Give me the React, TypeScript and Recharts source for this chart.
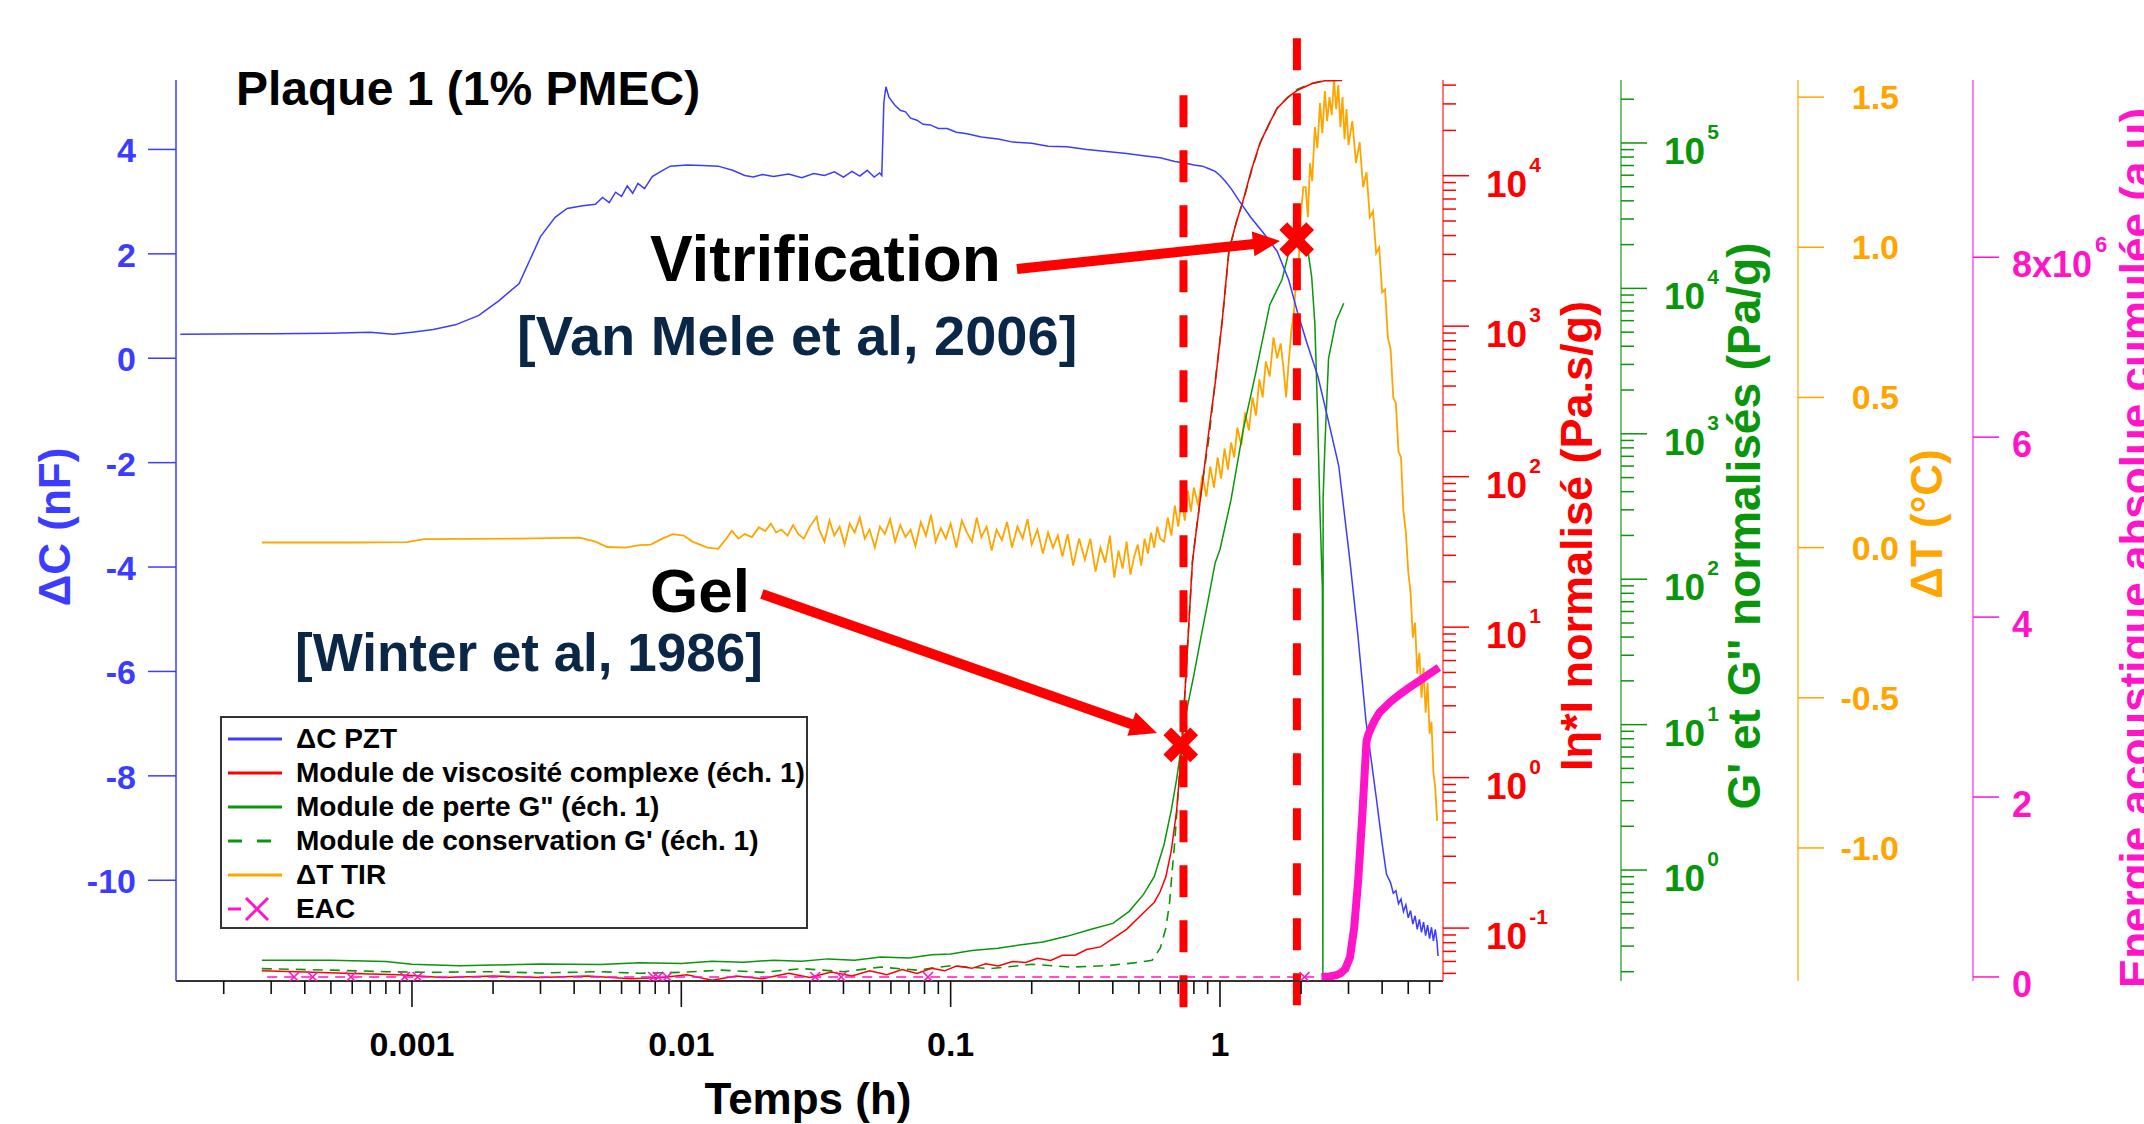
import React from "react";
import {
  ComposedChart,
  Line,
  XAxis,
  YAxis,
  ReferenceLine,
  ReferenceDot,
} from "recharts";

const W = 2144;
const H = 1124;
const FONT = "'Liberation Sans', Arial, Helvetica, sans-serif";

const BLUE = "#3c3cff";
const RED = "#ff0000";
const GREEN = "#0a960a";
const ORANGE = "#ffa500";
const MAGENTA = "#ff14c8";
const NAVY = "#0b2748";

/* ---------- axis domains / ticks ---------- */
const timeDomain = [1.33e-4, 6.73];
const dcDomain = [-11.93, 5.33];
const etaDomain = [0.0445, 43250];
const gDomain = [0.1726, 271000];
const dtDomain = [-1.443, 1.557];
const eacDomain = [-0.045, 9.97];

const timeMajor = [0.001, 0.01, 0.1, 1];
const etaMajor = [0.1, 1, 10, 100, 1000, 10000];
const gMajor = [1, 10, 100, 1000, 10000, 100000];
const dcTicks = [-10, -8, -6, -4, -2, 0, 2, 4];
const dtTicks = [-1.0, -0.5, 0, 0.5, 1.0, 1.5];
const dtLabels = ["-1.0", "-0.5", "0.0", "0.5", "1.0", "1.5"];
const eacTicks = [0, 2, 4, 6, 8];
const eacLabels = ["0", "2", "4", "6", "8x10"];

/** log ticks: every integer multiple of each decade inside [lo, hi] */
function logTicks(lo: number, hi: number) {
  const out: number[] = [];
  for (let e = Math.floor(Math.log10(lo)); e <= Math.ceil(Math.log10(hi)); e++) {
    for (let m = 1; m < 10; m++) {
      const v = Number((m * Math.pow(10, e)).toPrecision(6));
      if (v >= lo && v <= hi) out.push(v);
    }
  }
  return out;
}
const timeTicks = logTicks(timeDomain[0], timeDomain[1]);
const etaTicks = logTicks(etaDomain[0], etaDomain[1]);
const gTicks = logTicks(gDomain[0], gDomain[1]);

/* ---------- ΔC PZT (nF) ---------- */
const dcTime = [
  1.38e-4, 3e-4, 5e-4, 7e-4, 8.5e-4, 1.0e-3, 1.2e-3, 1.45e-3, 1.77e-3, 2.1e-3,
  2.5e-3, 2.75e-3, 3.0e-3, 3.4e-3, 3.77e-3, 4.3e-3, 4.8e-3, 5.1e-3, 5.4e-3, 5.7e-3,
  6.0e-3, 6.3e-3, 6.6e-3, 6.9e-3, 7.3e-3, 7.8e-3, 8.4e-3, 9.1e-3, 0.0105, 0.012,
  0.0137, 0.0155, 0.0172, 0.0185, 0.02, 0.022, 0.025, 0.028, 0.031, 0.034,
  0.037, 0.04, 0.043, 0.046, 0.049, 0.052, 0.0545, 0.0555, 0.0565, 0.0575,
  0.059, 0.062, 0.065, 0.068, 0.071, 0.075, 0.079, 0.084, 0.09, 0.097,
  0.105, 0.115, 0.13, 0.15, 0.17, 0.2, 0.23, 0.27, 0.32, 0.38,
  0.45, 0.52, 0.6, 0.68, 0.74, 0.8, 0.86, 0.91, 0.96, 1.0,
  1.05, 1.1, 1.18, 1.3, 1.45, 1.63, 1.8, 1.94, 2.1, 2.31,
  2.5, 2.76, 3.04, 3.25, 3.48, 3.8, 4.0, 4.15,
  4.3, 4.4, 4.5, 4.6, 4.7, 4.8, 4.9, 5.0, 5.1, 5.2, 5.3, 5.4,
  5.5, 5.6, 5.7, 5.8, 5.9, 6.0, 6.1, 6.2, 6.3, 6.4, 6.45,
];
const dcValue = [
  0.46, 0.47, 0.48, 0.5, 0.46, 0.5, 0.55, 0.64, 0.82, 1.1,
  1.43, 1.9, 2.33, 2.7, 2.87, 2.92, 2.95, 3.08, 2.98, 3.18,
  3.1, 3.3, 3.16, 3.35, 3.25, 3.48, 3.58, 3.68, 3.7, 3.69,
  3.68, 3.6, 3.5, 3.47, 3.52, 3.48, 3.53, 3.46, 3.54, 3.5,
  3.57, 3.47, 3.58, 3.49, 3.6, 3.47, 3.55, 3.5, 4.9, 5.2,
  5.0, 4.85, 4.75, 4.72, 4.6, 4.56, 4.48, 4.47, 4.4, 4.4,
  4.33, 4.3, 4.24, 4.2, 4.14, 4.12, 4.06, 4.05, 4.0, 3.96,
  3.92, 3.88, 3.84, 3.77, 3.74, 3.7, 3.68, 3.63, 3.58, 3.5,
  3.38, 3.25, 3.01, 2.7, 2.4, 2.05, 1.5, 0.88, 0.3, -0.35,
  -1.1, -2.06, -3.9, -5.3, -6.93, -8.4, -9.3, -9.88,
  -10.05, -10.25, -10.2, -10.45, -10.36, -10.6, -10.47, -10.72, -10.58, -10.84, -10.68, -10.94,
  -10.75, -11.0, -10.8, -11.06, -10.86, -11.12, -10.9, -11.16, -10.94, -11.2, -11.45,
];

/* ---------- |η*| normalised (Pa.s/g) ---------- */
const etaTime = [
  2.77e-4, 4e-4, 6e-4, 9e-4, 1.3e-3, 2e-3, 3e-3, 4.5e-3, 6.5e-3, 8.5e-3,
  0.0105, 0.013, 0.016, 0.02, 0.025, 0.03, 0.036, 0.043, 0.05, 0.058,
  0.066, 0.075, 0.085, 0.095, 0.105, 0.12, 0.135, 0.15, 0.17, 0.19,
  0.21, 0.235, 0.26, 0.29, 0.32, 0.36, 0.4, 0.45, 0.5, 0.54,
  0.57, 0.6, 0.63, 0.66, 0.69, 0.715, 0.74, 0.765, 0.79, 0.81,
  0.86, 0.91, 0.96, 1.02, 1.08, 1.15, 1.22, 1.31, 1.41, 1.52,
  1.63, 1.78, 1.94, 2.2, 2.45, 2.84,
];
const etaValue = [
  0.052, 0.051, 0.05, 0.049, 0.047, 0.048, 0.047, 0.048, 0.046, 0.047,
  0.049, 0.045, 0.048, 0.046, 0.05, 0.047, 0.051, 0.048, 0.052, 0.049,
  0.053, 0.05, 0.054, 0.052, 0.056, 0.054, 0.058, 0.056, 0.06, 0.059,
  0.063, 0.061, 0.066, 0.066, 0.072, 0.075, 0.085, 0.098, 0.118, 0.135,
  0.148, 0.175, 0.22, 0.33, 0.6, 1.3, 3.5, 10, 27, 39,
  90, 203, 420, 1100, 3200, 4900, 6900, 11000, 16600, 22000,
  28000, 33000, 37000, 41000, 42700, 43000,
];

/* ---------- G'' loss modulus (Pa/g) ---------- */
const g2Time = [
  2.77e-4, 5e-4, 8e-4, 1e-3, 1.5e-3, 2e-3, 3e-3, 5e-3, 7e-3, 0.01,
  0.013, 0.017, 0.022, 0.028, 0.035, 0.044, 0.055, 0.07, 0.085, 0.1,
  0.12, 0.15, 0.18, 0.22, 0.27, 0.33, 0.4, 0.46, 0.52, 0.57,
  0.62, 0.66, 0.69, 0.72, 0.74, 0.8, 0.85, 0.9, 0.96, 1.0,
  1.1, 1.22, 1.35, 1.53, 1.7, 1.83, 1.94, 2.04, 2.12, 2.19,
  2.25, 2.3, 2.35, 2.4, 2.41, 2.415, 2.45, 2.53, 2.7, 2.88,
];
const g2Value = [
  0.24, 0.24, 0.235, 0.225, 0.22, 0.222, 0.226, 0.224, 0.23, 0.228,
  0.236, 0.232, 0.24, 0.236, 0.245, 0.24, 0.252, 0.248, 0.262, 0.265,
  0.28, 0.29, 0.305, 0.32, 0.35, 0.39, 0.43, 0.52, 0.68, 0.9,
  1.5, 2.6, 4.2, 7.2, 10.8, 22, 40, 69, 130, 160,
  355, 1070, 2500, 7700, 11500, 20000, 24000, 22000, 18200, 12000,
  5750, 1500, 300, 87, 0.19, 360, 800, 3300, 6000, 7900,
];

/* ---------- G' storage modulus (Pa/g) ---------- */
const g1Time = [
  2.77e-4, 5e-4, 8e-4, 1.2e-3, 2e-3, 3e-3, 5e-3, 7e-3, 0.01, 0.014,
  0.02, 0.028, 0.04, 0.055, 0.075, 0.1, 0.14, 0.2, 0.28, 0.38,
  0.48, 0.56, 0.6, 0.63, 0.65, 0.665, 0.68, 0.7, 0.72, 0.74,
  0.765, 0.79, 0.81, 0.86, 0.91, 0.96, 1.02, 1.08, 1.15, 1.22,
  1.31, 1.41, 1.52, 1.63, 1.78, 1.94, 2.2, 2.45, 2.84,
];
const g1Value = [
  0.21, 0.205, 0.2, 0.198, 0.2, 0.196, 0.2, 0.195, 0.198, 0.205,
  0.198, 0.21, 0.2, 0.215, 0.205, 0.22, 0.21, 0.225, 0.215, 0.22,
  0.23, 0.24, 0.29, 0.4, 0.6, 1.0, 1.6, 3.5, 7.2, 16,
  47, 132, 195, 457, 933, 2290, 6030, 18200, 28500, 39800,
  64600, 100000, 134000, 174000, 204000, 234000, 257000, 269000, 270000,
];

/* ---------- ΔT TIR (°C) ---------- */
const dtTime = [
  2.77e-4, 6e-4, 9.6e-4, 1.11e-3, 2.5e-3, 4.2e-3, 4.8e-3, 5.3e-3, 6.2e-3, 7.0e-3,
  7.7e-3, 8.5e-3, 9.3e-3, 0.0102, 0.011, 0.0125, 0.0137, 0.0147, 0.0154, 0.0163,
  0.0172, 0.0183, 0.0194, 0.0205, 0.0215, 0.0225, 0.0235, 0.0248, 0.026, 0.0272,
  0.0285, 0.03, 0.0318, 0.0325,
  0.034, 0.0355, 0.037, 0.0387, 0.0404, 0.0422, 0.044, 0.046, 0.048, 0.05,
  0.0523, 0.0546, 0.057, 0.0596, 0.0622, 0.065, 0.068, 0.071, 0.074, 0.0775,
  0.081, 0.0845, 0.088, 0.092, 0.096, 0.1, 0.105, 0.11, 0.115, 0.12,
  0.125, 0.13, 0.136, 0.142, 0.148, 0.155, 0.162, 0.169, 0.177, 0.185,
  0.193, 0.2, 0.21, 0.22, 0.23, 0.24, 0.25, 0.26, 0.272, 0.285, 0.3,
  0.315, 0.33, 0.345, 0.36, 0.375, 0.39, 0.405, 0.42, 0.435, 0.45,
  0.465, 0.48, 0.495, 0.51, 0.525, 0.54, 0.555, 0.57, 0.585, 0.6,
  0.62, 0.64, 0.66, 0.68, 0.7, 0.72, 0.74, 0.76, 0.78, 0.8,
  0.83, 0.86, 0.89, 0.92, 0.95, 0.98, 1.01, 1.04, 1.07, 1.1,
  1.13, 1.16, 1.2, 1.24, 1.28, 1.32, 1.36, 1.4, 1.44, 1.48,
  1.53, 1.58, 1.63, 1.68, 1.72, 1.76, 1.8, 1.84, 1.88, 1.92,
  1.96, 2.0, 2.04,
  2.08, 2.12, 2.16, 2.2, 2.25, 2.3, 2.35, 2.4, 2.45, 2.5,
  2.55, 2.6, 2.65, 2.7, 2.75, 2.8, 2.85, 2.9, 2.95, 3.0,
  3.1, 3.2, 3.3, 3.4, 3.5, 3.6, 3.7, 3.8, 3.9, 4.0,
  4.1, 4.2, 4.3, 4.4, 4.5, 4.6, 4.7, 4.8, 4.9, 5.0,
  5.1, 5.2, 5.3, 5.4, 5.5, 5.6, 5.7, 5.8, 5.9, 6.0,
  6.1, 6.2, 6.3, 6.4,
];
const dtValue = [
  0.017, 0.017, 0.018, 0.028, 0.03, 0.033, 0.02, 0.002, 0.0, 0.008,
  0.01, 0.03, 0.045, 0.04, 0.02, 0.0, -0.004, 0.03, 0.056, 0.03,
  0.045, 0.035, 0.068, 0.055, 0.08, 0.05, 0.06, 0.04, 0.075, 0.045,
  0.03, 0.07, 0.103, 0.06,
  0.02, 0.09, 0.04, 0.07, 0.01, 0.08, 0.05, 0.1, 0.03, 0.06,
  0.0, 0.07, 0.045, 0.095, 0.02, 0.075, 0.035, 0.06, 0.005, 0.085,
  0.04, 0.11, 0.02, 0.065, 0.03, 0.08, 0.0, 0.09, 0.05, 0.02,
  0.1, 0.035, 0.07, -0.01, 0.06, 0.025, 0.085, 0.0, 0.07, 0.03,
  0.095, 0.01, 0.06, -0.02, 0.05, 0.0, 0.04, -0.03, 0.045, -0.06, 0.03,
  -0.04, 0.03, -0.08, 0.0, -0.05, 0.04, -0.1, -0.01, -0.07, 0.02,
  -0.09, -0.03, 0.01, -0.06, 0.03, -0.02, 0.05, 0.0, 0.07, 0.03,
  0.02, 0.1, 0.04, 0.14, 0.07, 0.16, 0.09, 0.19, 0.12, 0.2,
  0.14, 0.24, 0.17, 0.27, 0.2, 0.3, 0.23, 0.33, 0.26, 0.35,
  0.3, 0.4, 0.34, 0.45, 0.39, 0.5, 0.44, 0.56, 0.5, 0.62,
  0.57, 0.7, 0.63, 0.68, 0.6, 0.5, 0.62, 0.72, 0.78, 0.9,
  0.95, 1.12, 1.2,
  1.2, 1.1, 1.28, 1.22, 1.4, 1.33, 1.48, 1.38, 1.52, 1.42,
  1.5, 1.44, 1.56, 1.46, 1.54, 1.4, 1.5, 1.36, 1.46, 1.34,
  1.42, 1.28, 1.35, 1.2, 1.25, 1.1, 1.12, 0.98, 1.0, 0.85,
  0.86, 0.7, 0.66, 0.5, 0.48, 0.32, 0.3, 0.12, 0.05, -0.08,
  -0.15, -0.3, -0.25, -0.42, -0.35, -0.5, -0.4, -0.55, -0.45, -0.62,
  -0.58, -0.75, -0.8, -0.91,
];

/* ---------- EAC (x10^6 a.u) ---------- */
const eacLowTime = [
  2.9e-4, 3.65e-4, 4.28e-4, 5.93e-4, 9.4e-4, 1.05e-3, 7.86e-3, 8.2e-3, 8.85e-3,
  0.0314, 0.0392, 0.0824, 2.06, 2.3,
];
const eacLowValue = [0, 0, 0, 0, 0, 0, 0, 0, 0, 0, 0, 0, 0, 0];
const eacLowMarked = [false, true, true, true, true, true, true, true, true, true, true, true, true, false];
const eacHighTime = [
  2.38, 2.55, 2.7, 2.8, 2.92, 3.04, 3.15, 3.26, 3.38, 3.45, 3.5, 3.56, 3.63,
  3.75, 3.91, 4.1, 4.3, 4.65, 5.0, 5.55, 6.0, 6.5,
];
const eacHighValue = [
  0, 0.005, 0.02, 0.04, 0.09, 0.22, 0.55, 1.08, 1.82, 2.3, 2.62, 2.7, 2.76,
  2.85, 2.94, 3.0, 3.06, 3.14, 3.21, 3.3, 3.37, 3.44,
];

/* ---------- annotations (data coords: time h, ΔC nF or |η*|) ---------- */
const gelLineTime = 0.732;
const vitLineTime = 1.93;
const gelLineTop = 5.04;
const vitLineTop = 6.13;
const lineBottom = -12.52;
const gelMark = { t: 0.715, eta: 1.65 };
const vitMark = { t: 1.927, eta: 3760 };
const vitArrow = { from: [0.1763, 1.71], to: [1.337, 2.19], tip: [1.67, 2.246], angle: -6.1 };
const gelArrow = { from: [0.01992, -4.517], to: [0.4732, -7.015], tip: [0.5835, -7.18], angle: 19.4 };

// recharts stacks same-side axes in id order, so ids are prefixed to keep
// red, green, orange, magenta from the plot outward
const ID_ETA = "r1_eta";
const ID_G = "r2_g";
const ID_DT = "r3_dt";
const ID_EAC = "r4_eac";

type Pt = { t: number; v: number; m?: boolean };
const zip = (ts: number[], vs: number[]): Pt[] => ts.map((t, i) => ({ t, v: vs[i] }));

const dcData = zip(dcTime, dcValue);
const etaData = zip(etaTime, etaValue);
const g2Data = zip(g2Time, g2Value);
const g1Data = zip(g1Time, g1Value);
const dtData = zip(dtTime, dtValue);
const eacLowData = eacLowTime.map((t, i) => ({ t, v: eacLowValue[i], m: eacLowMarked[i] }));
const eacHighData = zip(eacHighTime, eacHighValue);

const near = (a: number, list: number[]) => list.some((b) => Math.abs(a - b) / b < 1e-6);

/* ---------- tick renderers ---------- */
function TimeTick(p: any) {
  const v = p.payload.value;
  const major = near(v, timeMajor);
  return (
    <g>
      <line x1={p.x} x2={p.x} y1={p.y} y2={p.y + (major ? 26 : 13)} stroke="#111" strokeWidth={1.6} />
      {major && (
        <text x={p.x} y={p.y + 75} textAnchor="middle" fill="#000" fontSize={34} fontWeight="bold" fontFamily={FONT}>
          {String(v)}
        </text>
      )}
    </g>
  );
}

function DcTick(p: any) {
  return (
    <g>
      <line x1={p.x - 28} x2={p.x} y1={p.y} y2={p.y} stroke={BLUE} strokeWidth={1.5} />
      <text x={p.x - 40} y={p.y + 13} textAnchor="end" fill={BLUE} fontSize={34} fontWeight="bold" fontFamily={FONT}>
        {String(p.payload.value)}
      </text>
    </g>
  );
}

function LogTick(p: any) {
  const v = p.payload.value;
  const major = near(v, p.majors);
  const exp = Math.round(Math.log10(v));
  return (
    <g>
      <line x1={p.x} x2={p.x + (major ? 26 : 13)} y1={p.y} y2={p.y} stroke={p.color} strokeWidth={1.5} />
      {major && (
        <text x={p.x + 43} y={p.y + 21} fill={p.color} fontSize={37} fontWeight="bold" fontFamily={FONT}>
          10
          <tspan dx={2} dy={-25} fontSize={21}>
            {String(exp)}
          </tspan>
        </text>
      )}
    </g>
  );
}

function DtTick(p: any) {
  const i = dtTicks.findIndex((d) => Math.abs(d - p.payload.value) < 1e-9);
  return (
    <g>
      <line x1={p.x} x2={p.x + 26} y1={p.y} y2={p.y} stroke={ORANGE} strokeWidth={1.5} />
      <text x={p.x + 101} y={p.y + 12} textAnchor="end" fill={ORANGE} fontSize={34} fontWeight="bold" fontFamily={FONT}>
        {dtLabels[i]}
      </text>
    </g>
  );
}

function EacTick(p: any) {
  const i = eacTicks.findIndex((d) => Math.abs(d - p.payload.value) < 1e-9);
  return (
    <g>
      <line x1={p.x} x2={p.x + 26} y1={p.y} y2={p.y} stroke={MAGENTA} strokeWidth={1.5} />
      <text x={p.x + 39} y={p.y + 20} fill={MAGENTA} fontSize={36} fontWeight="bold" fontFamily={FONT}>
        {eacLabels[i]}
        {i === eacTicks.length - 1 && (
          <tspan dx={3} dy={-25} fontSize={22}>
            6
          </tspan>
        )}
      </text>
    </g>
  );
}

function EacDot(p: any) {
  if (!p.payload || !p.payload.m) return <g key={`e${p.index}`} />;
  const s = 5;
  return (
    <path
      key={`e${p.index}`}
      d={`M${p.cx - s},${p.cy - s}L${p.cx + s},${p.cy + s}M${p.cx - s},${p.cy + s}L${p.cx + s},${p.cy - s}`}
      stroke={MAGENTA}
      strokeWidth={1.6}
      fill="none"
    />
  );
}

const bigCross = (p: any) => (
  <g>
    <rect x={p.cx - 19} y={p.cy - 5.5} width={38} height={11} fill={RED} transform={`rotate(45 ${p.cx} ${p.cy})`} />
    <rect x={p.cx - 19} y={p.cy - 5.5} width={38} height={11} fill={RED} transform={`rotate(-45 ${p.cx} ${p.cy})`} />
  </g>
);

const arrowHead = (angle: number) => (p: any) => (
  <polygon
    points={`${p.cx},${p.cy} ${p.cx - 27},${p.cy - 12.5} ${p.cx - 27},${p.cy + 12.5}`}
    fill={RED}
    transform={`rotate(${angle} ${p.cx} ${p.cy})`}
  />
);

/* ---------- legend / labels overlay ---------- */
const legendItems = [
  { label: "ΔC PZT", color: BLUE, dash: "" },
  { label: "Module de viscosité complexe (éch. 1)", color: RED, dash: "" },
  { label: 'Module de perte G" (éch. 1)', color: GREEN, dash: "" },
  { label: "Module de conservation G' (éch. 1)", color: GREEN, dash: "14 15" },
  { label: "ΔT TIR", color: ORANGE, dash: "" },
  { label: "EAC", color: MAGENTA, dash: "eac" },
];

function RotLabel({ x, y, color, text, size = 44 }: { x: number; y: number; color: string; text: string; size?: number }) {
  return (
    <text
      x={x}
      y={y}
      transform={`rotate(-90 ${x} ${y})`}
      textAnchor="middle"
      fill={color}
      fontSize={size}
      fontWeight="bold"
      fontFamily={FONT}
    >
      {text}
    </text>
  );
}

export default function App() {
  const common = { xAxisId: "t", dataKey: "v", dot: false, isAnimationActive: false, type: "linear" as const };
  return (
    <div style={{ position: "absolute", left: 0, top: 0, width: W, height: H, background: "#fff" }}>
      <ComposedChart width={W} height={H} margin={{ top: 80, right: 0, bottom: 0, left: 0 }}>
        <XAxis
          xAxisId="t"
          dataKey="t"
          type="number"
          scale="log"
          domain={timeDomain}
          allowDataOverflow
          ticks={timeTicks}
          interval={0}
          tick={(p: any) => <TimeTick {...p} />}
          tickSize={0}
          tickMargin={0}
          tickLine={false}
          axisLine={{ stroke: "#333", strokeWidth: 2 }}
          height={143}
        />
        <YAxis
          yAxisId="dc"
          orientation="left"
          width={176}
          type="number"
          domain={dcDomain}
          allowDataOverflow
          ticks={dcTicks}
          interval={0}
          tick={(p: any) => <DcTick {...p} />}
          tickSize={0}
          tickMargin={0}
          tickLine={false}
          axisLine={{ stroke: BLUE, strokeWidth: 1.5 }}
        />
        <YAxis
          yAxisId={ID_ETA}
          orientation="right"
          width={178}
          type="number"
          scale="log"
          domain={etaDomain}
          allowDataOverflow
          ticks={etaTicks}
          interval={0}
          tick={(p: any) => <LogTick {...p} color={RED} majors={etaMajor} />}
          tickSize={0}
          tickMargin={0}
          tickLine={false}
          axisLine={{ stroke: "#ff4a4a", strokeWidth: 1.5 }}
        />
        <YAxis
          yAxisId={ID_G}
          orientation="right"
          width={177}
          type="number"
          scale="log"
          domain={gDomain}
          allowDataOverflow
          ticks={gTicks}
          interval={0}
          tick={(p: any) => <LogTick {...p} color={GREEN} majors={gMajor} />}
          tickSize={0}
          tickMargin={0}
          tickLine={false}
          axisLine={{ stroke: "#4aaa4a", strokeWidth: 1.5 }}
        />
        <YAxis
          yAxisId={ID_DT}
          orientation="right"
          width={175}
          type="number"
          domain={dtDomain}
          allowDataOverflow
          ticks={dtTicks}
          interval={0}
          tick={(p: any) => <DtTick {...p} />}
          tickSize={0}
          tickMargin={0}
          tickLine={false}
          axisLine={{ stroke: "#ffb833", strokeWidth: 1.5 }}
        />
        <YAxis
          yAxisId={ID_EAC}
          orientation="right"
          width={171}
          type="number"
          domain={eacDomain}
          allowDataOverflow
          ticks={eacTicks}
          interval={0}
          tick={(p: any) => <EacTick {...p} />}
          tickSize={0}
          tickMargin={0}
          tickLine={false}
          axisLine={{ stroke: "#ff55dc", strokeWidth: 1.5 }}
        />

        <Line {...common} yAxisId={ID_DT} data={dtData} stroke={ORANGE} strokeWidth={1.8} />
        <Line {...common} yAxisId={ID_G} data={g1Data} stroke={GREEN} strokeWidth={1.6} strokeDasharray="10 7" />
        <Line {...common} yAxisId={ID_G} data={g2Data} stroke={GREEN} strokeWidth={1.5} />
        <Line {...common} yAxisId={ID_ETA} data={etaData} stroke={RED} strokeWidth={1.5} />
        <Line {...common} yAxisId="dc" data={dcData} stroke={BLUE} strokeWidth={1.5} />
        <Line
          {...common}
          yAxisId={ID_EAC}
          data={eacLowData}
          stroke={MAGENTA}
          strokeWidth={1.5}
          strokeDasharray="10 7"
          dot={(p: any) => <EacDot {...p} />}
        />
        <Line {...common} yAxisId={ID_EAC} data={eacHighData} stroke={MAGENTA} strokeWidth={8} />

        <ReferenceLine
          xAxisId="t"
          yAxisId="dc"
          ifOverflow="visible"
          segment={[{ x: gelLineTime, y: gelLineTop }, { x: gelLineTime, y: lineBottom }]}
          stroke={RED}
          strokeWidth={8}
          strokeDasharray="32 23"
        />
        <ReferenceLine
          xAxisId="t"
          yAxisId="dc"
          ifOverflow="visible"
          segment={[{ x: vitLineTime, y: vitLineTop }, { x: vitLineTime, y: lineBottom }]}
          stroke={RED}
          strokeWidth={8}
          strokeDasharray="32 23"
        />
        <ReferenceLine
          xAxisId="t"
          yAxisId="dc"
          ifOverflow="visible"
          segment={[{ x: vitArrow.from[0], y: vitArrow.from[1] }, { x: vitArrow.to[0], y: vitArrow.to[1] }]}
          stroke={RED}
          strokeWidth={10}
        />
        <ReferenceLine
          xAxisId="t"
          yAxisId="dc"
          ifOverflow="visible"
          segment={[{ x: gelArrow.from[0], y: gelArrow.from[1] }, { x: gelArrow.to[0], y: gelArrow.to[1] }]}
          stroke={RED}
          strokeWidth={10}
        />
        <ReferenceDot xAxisId="t" yAxisId="dc" x={vitArrow.tip[0]} y={vitArrow.tip[1]} ifOverflow="visible" shape={arrowHead(vitArrow.angle)} />
        <ReferenceDot xAxisId="t" yAxisId="dc" x={gelArrow.tip[0]} y={gelArrow.tip[1]} ifOverflow="visible" shape={arrowHead(gelArrow.angle)} />
        <ReferenceDot xAxisId="t" yAxisId={ID_ETA} x={vitMark.t} y={vitMark.eta} ifOverflow="visible" shape={bigCross} />
        <ReferenceDot xAxisId="t" yAxisId={ID_ETA} x={gelMark.t} y={gelMark.eta} ifOverflow="visible" shape={bigCross} />
      </ComposedChart>

      <svg
        width={W}
        height={H}
        style={{ position: "absolute", left: 0, top: 0, pointerEvents: "none" }}
        fontFamily={FONT}
        fontWeight="bold"
      >
        <text x={236} y={105} fontSize={48} fill="#000">
          Plaque 1 (1% PMEC)
        </text>
        <text x={650} y={281} fontSize={64} fill="#000">
          Vitrification
        </text>
        <text x={517} y={355} fontSize={56} fill={NAVY}>
          [Van Mele et al, 2006]
        </text>
        <text x={650} y={612} fontSize={62} fill="#000">
          Gel
        </text>
        <text x={295} y={671} fontSize={53} fill={NAVY}>
          [Winter et al, 1986]
        </text>

        <text x={808} y={1114} fontSize={44} fill="#000" textAnchor="middle">
          Temps (h)
        </text>

        <RotLabel x={70} y={527} color={BLUE} text="ΔC (nF)" />
        <RotLabel x={1592} y={536} color={RED} text="Iη*I normalisé (Pa.s/g)" size={45} />
        <RotLabel x={1760} y={526} color={GREEN} text="G' et G'' normalisés (Pa/g)" size={46} />
        <RotLabel x={1942} y={524} color={ORANGE} text="ΔT (°C)" />
        <RotLabel x={2151} y={548} color={MAGENTA} text="Energie acoustique absolue cumulée (a.u)" />

        <rect x={221} y={717} width={586} height={211} fill="#fff" stroke="#333" strokeWidth={2} />
        {legendItems.map((it, i) => {
          const y = 739 + i * 34;
          return (
            <g key={it.label}>
              {it.dash === "eac" ? (
                <g>
                  <line x1={228} x2={241} y1={y} y2={y} stroke={it.color} strokeWidth={3} />
                  <path
                    d={`M246,${y - 11}L268,${y + 11}M246,${y + 11}L268,${y - 11}`}
                    stroke={it.color}
                    strokeWidth={3}
                  />
                </g>
              ) : (
                <line
                  x1={228}
                  x2={282}
                  y1={y}
                  y2={y}
                  stroke={it.color}
                  strokeWidth={3}
                  strokeDasharray={it.dash || undefined}
                />
              )}
              <text x={296} y={y + 9} fontSize={28} fill="#000">
                {it.label}
              </text>
            </g>
          );
        })}
      </svg>
    </div>
  );
}
